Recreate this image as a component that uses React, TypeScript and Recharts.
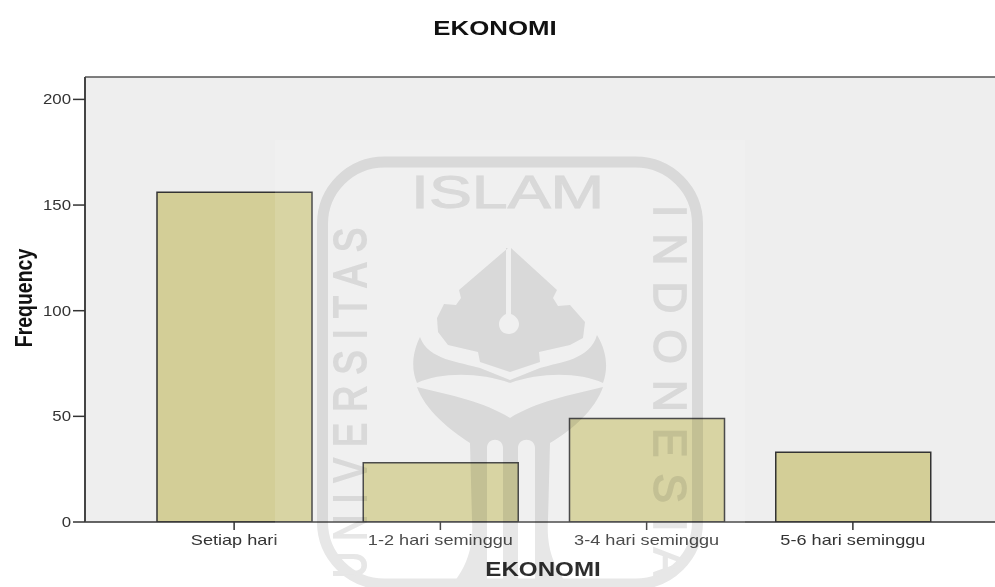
import React from "react";
import { BarChart, Bar, XAxis, YAxis, CartesianGrid, ReferenceLine } from "recharts";

const categories = ["Setiap hari", "1-2 hari seminggu", "3-4 hari seminggu", "5-6 hari seminggu"];
const frequencies = [156, 28, 49, 33];
const yTicks = [0, 50, 100, 150, 200];
const yMax = 210.6;
const chartTitle = "EKONOMI";
const xTitle = "EKONOMI";
const yTitle = "Frequency";

const rows = categories.map((name, i) => ({ name, value: frequencies[i] }));
const FONT = "'Liberation Sans', Arial, sans-serif";

const XTick = ({ x, y, payload }: any) => (
  <text transform={`translate(${x},${y + 13}) scale(1.25,1)`} textAnchor="middle" fontFamily={FONT} fontSize={14.5} fill="#333">
    {payload.value}
  </text>
);
const YTick = ({ x, y, payload }: any) => (
  <text transform={`translate(${x},${y + 5}) scale(1.16,1)`} textAnchor="end" fontFamily={FONT} fontSize={14.5} fill="#333">
    {payload.value}
  </text>
);

const Watermark = () => (
  <svg width={995} height={587} style={{ position: "absolute", left: 0, top: 0, pointerEvents: "none" }}>
    <rect x={275} y={140} width={470} height={447} fill="#fff" opacity={0.12} />
    <g style={{ mixBlendMode: "multiply" }} fill="#E7E7E7">
      <rect x={322.5} y={162} width={375} height={422} rx={62} fill="none" stroke="#E7E7E7" strokeWidth={11} />
      <path
        fillRule="evenodd"
        d="M508 248 L459 290 L461 298 L456 305 L444 304 L437 318 L438 332 L448 345 L478 352 L480 362 L510 372 L540 362 L539 352 L570 345 L583 338 L585 322 L570 305 L558 306 L553 298 L557 290 L511 248 L511 314 C516 316 519 320 519 324 C519 330 514 334 509 334 C503 334 499 330 499 324 C499 320 502 316 506 314 L506 248 Z"
      />
      <path d="M420 337 C411 355 412 372 417 383 C440 372 480 372 510 383 C540 372 580 372 603 383 C607 372 609 355 597 335 C590 360 560 362 540 368 L510 380 L480 368 C460 362 428 360 420 337 Z" />
      <path
        fillRule="evenodd"
        d="M417 387 C425 410 450 430 470 443 L472 520 C474 550 465 570 450 587 L570 587 C555 570 546 550 548 520 L550 443 C572 430 595 410 603 387 C570 395 535 402 510 418 C485 402 450 395 417 387 Z
           M487 448 C487 437 503 437 503 448 L503 587 L487 587 Z
           M518 448 C518 437 535 437 535 448 L535 587 L518 587 Z"
      />
      <g fontFamily={FONT} fill="#E7E7E7" stroke="#E7E7E7">
        <text transform="translate(411,208) scale(1.4,1)" fontSize={46} strokeWidth={1}>ISLAM</text>
        <text transform="translate(366,578) rotate(-90) scale(1,1.28)" fontSize={36} strokeWidth={1.6} textLength={350}>UNIVERSITAS</text>
        <text transform="translate(654,205) rotate(90) scale(1,1.05)" fontSize={44} strokeWidth={1.6} textLength={372}>INDONESIA</text>
      </g>
    </g>
  </svg>
);

export default function App() {
  return (
    <div style={{ position: "absolute", left: 0, top: 0, width: 995, height: 587, overflow: "hidden", background: "#fff" }}>
      <BarChart width={1002} height={587} data={rows} margin={{ top: 77, right: 0, bottom: 0, left: 0 }} barCategoryGap={0}>
        <CartesianGrid horizontal={false} vertical={false} fill="#EEEEEE" />
        <XAxis
          dataKey="name"
          height={65}
          padding={{ left: 46, right: 46 }}
          interval={0}
          tick={<XTick />}
          tickSize={8}
          tickLine={{ stroke: "#333", strokeWidth: 1.5 }}
          axisLine={{ stroke: "#333", strokeWidth: 1.5 }}
        />
        <YAxis
          width={85}
          domain={[0, yMax]}
          ticks={yTicks}
          allowDataOverflow
          tick={<YTick />}
          tickSize={12}
          tickMargin={2}
          tickLine={{ stroke: "#333", strokeWidth: 1.5 }}
          axisLine={{ stroke: "#444", strokeWidth: 2 }}
        />
        <ReferenceLine y={yMax} stroke="#555" strokeWidth={1.5} />
        <Bar dataKey="value" barSize={155} fill="#D3CE97" stroke="#333" strokeWidth={1.5} isAnimationActive={false} />
        <text transform="translate(495,35) scale(1.26,1)" textAnchor="middle" fontFamily={FONT} fontWeight={700} fontSize={20.5} fill="#111">{chartTitle}</text>
        <text transform="translate(543,576) scale(1.24,1)" textAnchor="middle" fontFamily={FONT} fontWeight={700} fontSize={19.5} fill="#111">{xTitle}</text>
        <text transform="translate(32,298) scale(1.2,1) rotate(-90)" textAnchor="middle" fontFamily={FONT} fontWeight={700} fontSize={19.5} fill="#111">{yTitle}</text>
      </BarChart>
      <Watermark />
    </div>
  );
}
